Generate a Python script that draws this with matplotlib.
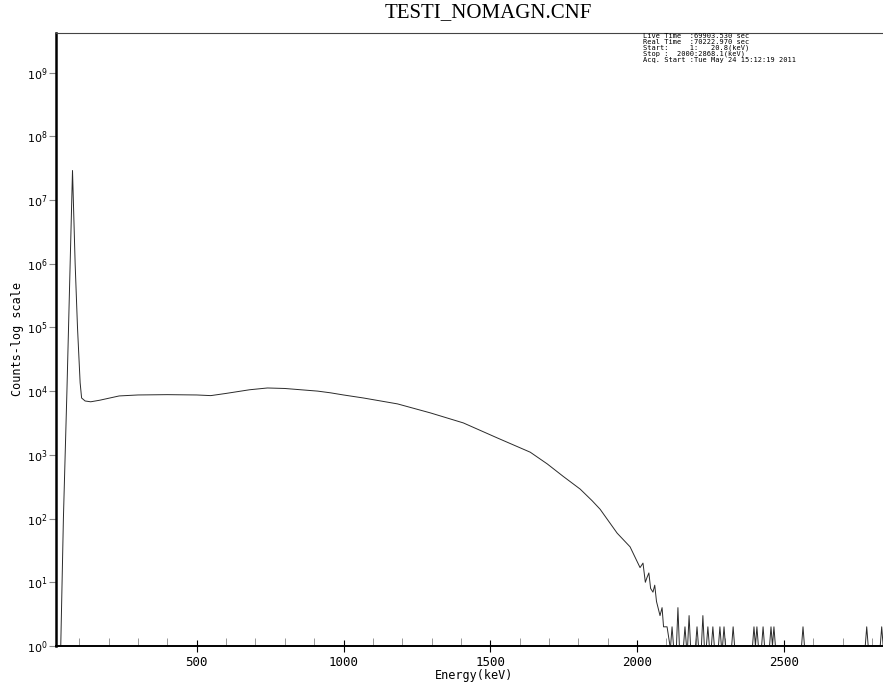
import numpy as np
import matplotlib
matplotlib.use("Agg")
import matplotlib.pyplot as plt
from matplotlib.ticker import FixedLocator, MultipleLocator, NullLocator

# spectrum read channel-wise (keV, counts)
energy_kev = [37, 46, 58, 69, 77, 86, 94, 103, 108, 120, 139, 170, 236, 300,
              400, 500, 548, 600, 680, 741, 800, 912, 956, 1000, 1068, 1184,
              1296, 1408, 1524, 1636, 1694, 1748, 1806, 1847, 1874, 1932,
              1976, 2010, 2020, 2028, 2034, 2040, 2046, 2054, 2060, 2066,
              2078, 2085, 2090, 2102, 2112]
counts = [1, 100, 1.0e4, 1.0e6, 2.9e7, 1.0e6, 1.0e5, 13500, 7800, 7000,
          6800, 7200, 8400, 8700, 8800, 8700, 8500, 9200, 10500, 11200,
          11000, 10000, 9400, 8700, 7800, 6300, 4550, 3170, 1840, 1100, 720,
          460, 290, 190, 140, 59, 36, 17, 20, 10, 12, 14, 8, 7, 9, 5, 3, 4,
          2, 2, 1]

# isolated counts in the high-energy tail, one-count channels either side
tail_kev = [2119, 2139, 2163, 2177, 2204, 2224, 2241, 2258, 2282, 2296, 2327,
            2398, 2408, 2429, 2456, 2466, 2565, 2782, 2833]
tail_counts = [2, 4, 2, 3, 2, 3, 2, 2, 2, 2, 2, 2, 2, 2, 2, 2, 2, 2, 2]

decades = list(range(0, 10))

info_lines = [
    "Live Time  :69903.530 sec",
    "Real Time  :70222.970 sec",
    "Start:     1:   20.8(keV)",
    "Stop :  2000:2868.1(keV)",
    "Acq. Start :Tue May 24 15:12:19 2011",
]

x_start, x_stop = 20.8, 2868.1

fig = plt.figure(figsize=(8.83, 6.91), dpi=100)
ax = fig.add_axes([56 / 883, 45 / 691, 836 / 883, 613 / 691])
ax.set_yscale("log", nonpositive="clip")

tx, ty = [], []
for e, c in zip(tail_kev, tail_counts):
    tx += [e - 5, e, e + 5]
    ty += [1, c, 1]

line_kw = dict(color="#2a2a2a", lw=0.7)
ax.plot(energy_kev, counts, **line_kw)
ax.plot(tx, ty, **line_kw)

ax.set_xlim(x_start, x_stop)
ax.set_ylim(1, 10 ** 9.62)

ax.xaxis.set_major_locator(MultipleLocator(500))
ax.xaxis.set_minor_locator(MultipleLocator(100))
ax.yaxis.set_major_locator(FixedLocator([10.0 ** d for d in decades]))
ax.yaxis.set_minor_locator(NullLocator())
ax.set_yticklabels([f"$10^{{{d}}}$" for d in decades])

ax.tick_params(axis="x", which="major", direction="inout", length=9,
               width=0.8, color="black", labelsize=9, pad=3)
ax.tick_params(axis="x", which="minor", direction="in", length=6,
               width=0.6, color="#888888")
ax.tick_params(axis="y", which="major", direction="out", length=5,
               width=0.8, color="#888888", labelsize=8, pad=1)

for lbl in ax.get_xticklabels():
    lbl.set_family("DejaVu Sans Mono")

ax.spines["left"].set_linewidth(1.8)
ax.spines["bottom"].set_linewidth(1.4)
ax.spines["top"].set_linewidth(0.8)
ax.spines["top"].set_color("#444444")
ax.spines["right"].set_visible(False)

ax.set_xlabel("Energy(keV)", family="DejaVu Sans Mono", fontsize=8.5,
              labelpad=0)
ax.set_ylabel("Counts-log scale", family="DejaVu Sans Mono", fontsize=8.5,
              labelpad=2)

fig.text(488 / 883, 1 - 13 / 691, "TESTI_NOMAGN.CNF",
         family="Liberation Serif", fontsize=15, ha="center", va="center")

fig.text(643 / 883, 1 - 33 / 691, "\n".join(info_lines),
         family="DejaVu Sans Mono", fontsize=5.0, linespacing=0.95,
         ha="left", va="top")

fig.savefig("out.png", dpi=100)
